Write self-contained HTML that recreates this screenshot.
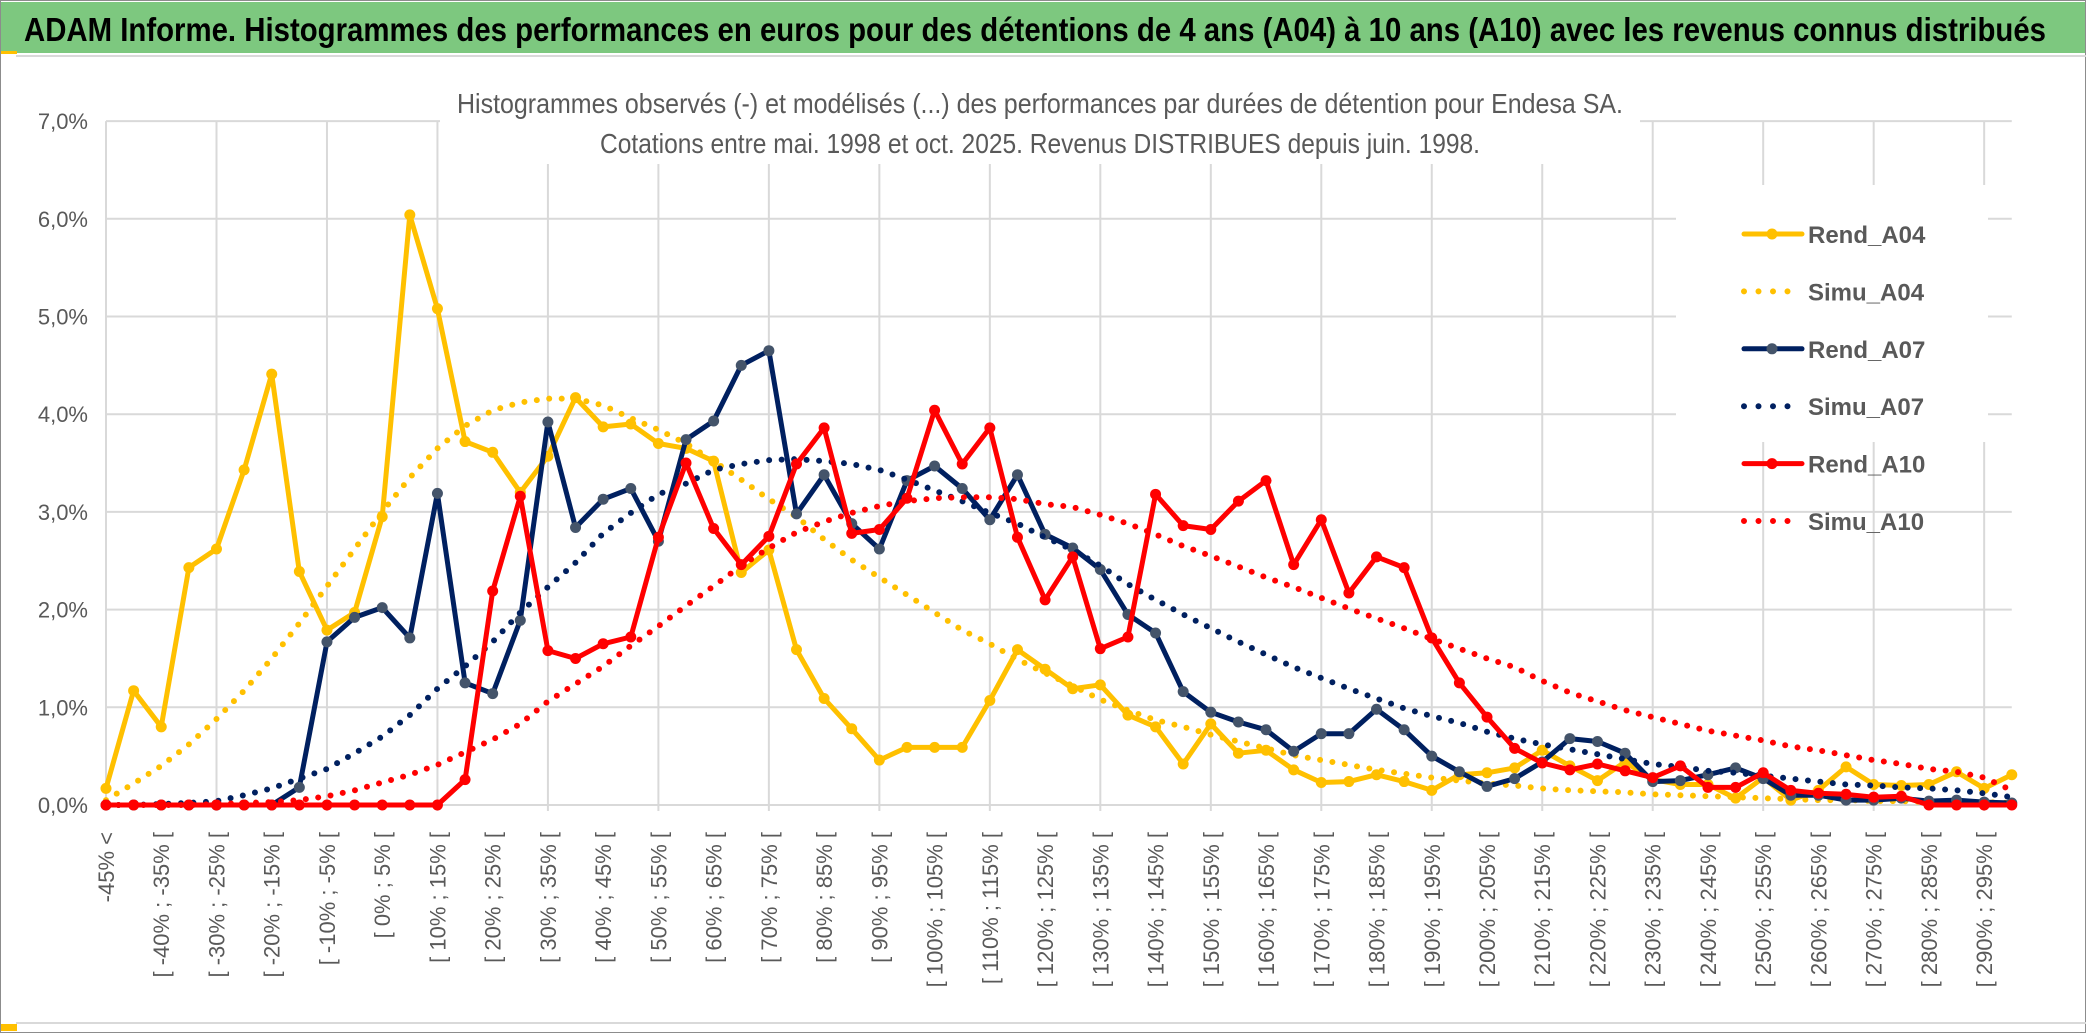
<!DOCTYPE html>
<html><head><meta charset="utf-8"><style>
html,body{margin:0;padding:0;background:#fff;}
svg{display:block;font-family:"Liberation Sans",sans-serif;}
</style></head><body>
<svg id="chart" width="2086" height="1033" viewBox="0 0 2086 1033" xmlns="http://www.w3.org/2000/svg">
<rect x="0.5" y="0.5" width="2085" height="1032" fill="#fff" stroke="#8c8c8c" stroke-width="1"/>
<rect x="1" y="2" width="2084" height="51" fill="#7dc87f"/>
<rect x="1" y="51" width="16" height="3" fill="#ffc000"/>
<line x1="16" y1="56" x2="2086" y2="56" stroke="#d9d9d9" stroke-width="2"/>
<text x="24" y="41" font-size="33" font-weight="bold" fill="#000" textLength="2022" lengthAdjust="spacingAndGlyphs">ADAM Informe. Histogrammes des performances en euros pour des détentions de 4 ans (A04) à 10 ans (A10) avec les revenus connus distribués</text>
<line x1="16" y1="1023" x2="2086" y2="1023" stroke="#d9d9d9" stroke-width="2"/>
<rect x="1" y="1024" width="16" height="7" fill="#ffc000"/>
<g id="grid"></g>
<rect x="440" y="78" width="1200" height="86" fill="#fff"/>
<text x="1040" y="113" font-size="28" fill="#595959" text-anchor="middle" textLength="1166" lengthAdjust="spacingAndGlyphs">Histogrammes observés (-) et modélisés (...) des performances par durées de détention pour Endesa SA.</text>
<text x="1040" y="153" font-size="28" fill="#595959" text-anchor="middle" textLength="880" lengthAdjust="spacingAndGlyphs">Cotations entre mai. 1998 et oct. 2025. Revenus DISTRIBUES depuis juin. 1998.</text>
<g id="yaxis"></g>
<g id="xaxis"></g>
<g id="series"></g>
<g id="legend"></g>
</svg>
<script>
const yTicks = [0,1,2,3,4,5,6,7];
const yTickLabels = ["0,0%","1,0%","2,0%","3,0%","4,0%","5,0%","6,0%","7,0%"];
const rendA04 = [0.17,1.17,0.80,2.43,2.62,3.43,4.41,2.39,1.79,1.97,2.95,6.04,5.08,3.72,3.61,3.20,3.57,4.17,
3.87,3.90,3.70,3.65,3.52,2.38,2.61,1.59,1.09,0.78,0.46,0.59,0.59,0.59,1.07,1.59,1.39,
1.19,1.23,0.92,0.80,0.42,0.83,0.53,0.56,0.36,0.23,0.24,0.31,0.24,0.15,0.31,0.33,0.38,
0.56,0.40,0.25,0.44,0.26,0.21,0.21,0.07,0.28,0.05,0.15,0.39,0.21,0.20,0.21,0.34,0.17,0.31];
const simuA04 = [0.05,0.22,0.40,0.62,0.88,1.17,1.50,1.86,2.24,2.62,3.00,3.35,3.65,3.88,4.04,4.12,4.16,4.16,
4.09,3.96,3.84,3.70,3.52,3.33,3.13,2.95,2.72,2.51,2.33,2.15,1.97,1.79,1.65,1.49,1.35,
1.22,1.08,0.97,0.87,0.80,0.72,0.65,0.58,0.51,0.46,0.41,0.36,0.32,0.28,0.25,0.22,0.20,
0.17,0.15,0.14,0.13,0.11,0.10,0.09,0.08,0.07,0.06,0.05,0.05,0.04,0.04,0.03,0.03,0.03,0.02];
const rendA07 = [0,0,0,0,0,0,0,0.18,1.67,1.92,2.02,1.71,3.19,1.25,1.14,1.89,3.92,2.84,
3.13,3.24,2.70,3.74,3.93,4.50,4.65,2.98,3.38,2.88,2.62,3.32,3.47,3.24,2.92,3.38,2.77,
2.63,2.41,1.95,1.76,1.16,0.95,0.85,0.77,0.55,0.73,0.73,0.98,0.77,0.50,0.34,0.19,0.27,
0.44,0.68,0.65,0.53,0.24,0.25,0.31,0.38,0.27,0.10,0.10,0.05,0.05,0.07,0.04,0.05,0.03,0.02];
const simuA07 = [0,0,0.01,0.02,0.04,0.10,0.17,0.27,0.37,0.53,0.70,0.92,1.19,1.42,1.67,1.97,2.23,2.48,
2.78,2.99,3.18,3.29,3.43,3.49,3.53,3.54,3.52,3.49,3.43,3.33,3.22,3.11,2.99,2.88,2.74,
2.61,2.45,2.26,2.10,1.95,1.81,1.67,1.54,1.41,1.30,1.19,1.09,0.99,0.91,0.84,0.75,0.68,
0.62,0.57,0.52,0.47,0.42,0.39,0.35,0.33,0.30,0.27,0.24,0.21,0.20,0.18,0.17,0.15,0.12,0.08];
const rendA10 = [0,0,0,0,0,0,0,0,0,0,0,0,0,0.26,2.19,3.16,1.58,1.50,
1.65,1.72,2.74,3.50,2.83,2.46,2.75,3.49,3.86,2.78,2.82,3.14,4.04,3.49,3.86,2.74,2.10,
2.54,1.60,1.72,3.18,2.86,2.82,3.11,3.32,2.46,2.92,2.17,2.54,2.43,1.71,1.25,0.90,0.58,
0.43,0.36,0.42,0.35,0.28,0.40,0.18,0.18,0.33,0.15,0.12,0.11,0.08,0.09,0,0,0,0];
const simuA10 = [0,0,0,0,0.01,0.02,0.03,0.05,0.09,0.15,0.23,0.31,0.41,0.54,0.67,0.83,1.06,1.24,
1.42,1.63,1.83,2.04,2.24,2.45,2.63,2.79,2.90,2.99,3.06,3.11,3.14,3.15,3.15,3.13,3.08,
3.05,2.97,2.88,2.77,2.65,2.55,2.44,2.33,2.23,2.12,2.01,1.91,1.81,1.70,1.60,1.50,1.41,
1.27,1.15,1.06,0.97,0.90,0.83,0.76,0.71,0.66,0.60,0.56,0.51,0.46,0.42,0.37,0.34,0.28,0.15];
const categories = ["-45% <"];
for (let k = 1; k < 70; k++) { categories.push("[ " + (-50 + 5*k) + "% ; " + (-45 + 5*k) + "% ["); }

const NS = "http://www.w3.org/2000/svg";
const X0 = 106, STEP = 27.62, Y0 = 805, YSCALE = 97.7;
function xPos(i){ return X0 + i*STEP; }
function yPos(v){ return Y0 - v*YSCALE; }
function mk(tag, attrs, parent){ const e = document.createElementNS(NS, tag); for (const k in attrs) e.setAttribute(k, attrs[k]); parent.appendChild(e); return e; }

const grid = document.getElementById('grid');
yTicks.forEach(t => {
  const l = mk('line', {x1: X0, x2: xPos(categories.length-1), y1: yPos(t), y2: yPos(t), stroke: '#d9d9d9', 'stroke-width': 2}, grid);
  
  
});
for (let i = 0; i < categories.length; i += 4) {
  const l = mk('line', {x1: xPos(i), x2: xPos(i), y1: yPos(7), y2: Y0 + 6, stroke: '#d9d9d9', 'stroke-width': 2}, grid);
  
  
}
const yaxis = document.getElementById('yaxis');
yTicks.forEach((t, k) => {
  const tx = mk('text', {x: 88, y: yPos(t) + 8, 'font-size': 22, fill: '#595959', 'text-anchor': 'end'}, yaxis);
  tx.textContent = yTickLabels[k];
  
  
});
const xaxis = document.getElementById('xaxis');
categories.forEach((c, i) => {
  if (i % 2 !== 0) return;
  const x = xPos(i) + 8, y = 832;
  const tx = mk('text', {x: x, y: y, 'font-size': 22, fill: '#595959', 'text-anchor': 'end', transform: 'rotate(-90 ' + x + ' ' + y + ')'}, xaxis);
  tx.textContent = c;
  
  
});

const seriesG = document.getElementById('series');
const seriesDefs = [
  {name: 'Rend_A04', data: rendA04, color: '#ffc000', marker: '#ffc000', dotted: false},
  {name: 'Simu_A04', data: simuA04, color: '#ffc000', dotted: true},
  {name: 'Rend_A07', data: rendA07, color: '#002060', marker: '#44546a', dotted: false},
  {name: 'Simu_A07', data: simuA07, color: '#002060', dotted: true},
  {name: 'Rend_A10', data: rendA10, color: '#ff0000', marker: '#ff0000', dotted: false},
  {name: 'Simu_A10', data: simuA10, color: '#ff0000', dotted: true}
];
seriesDefs.forEach(s => {
  const g = mk('g', {}, seriesG);
  
  
  const pts = s.data.map((v, i) => xPos(i).toFixed(1) + ',' + yPos(v).toFixed(1)).join(' ');
  const attrs = {points: pts, fill: 'none', stroke: s.color, 'stroke-linejoin': 'round', 'stroke-linecap': 'round'};
  if (s.dotted) { attrs['stroke-width'] = 6; attrs['stroke-dasharray'] = '0 12.5'; }
  else { attrs['stroke-width'] = 5; }
  const pl = mk('polyline', attrs, g);
  
  
  if (!s.dotted) {
    s.data.forEach((v, i) => {
      const c = mk('circle', {cx: xPos(i), cy: yPos(v), r: 5.5, fill: s.marker}, g);
      
      
    });
  }
});

const legend = document.getElementById('legend');
const lb = mk('rect', {x: 1676, y: 185, width: 312, height: 257, fill: '#fff'}, legend);


seriesDefs.forEach((s, k) => {
  const y = 234 + k*57.4;
  const g = mk('g', {}, legend);
  
  
  const la = {x1: 1744, x2: 1802, y1: y, y2: y, stroke: s.color, 'stroke-linecap': 'round'};
  if (s.dotted) { la['stroke-width'] = 6; la['stroke-dasharray'] = '0 14.5'; }
  else { la['stroke-width'] = 5; }
  mk('line', la, g);
  if (!s.dotted) mk('circle', {cx: 1772, cy: y, r: 5.5, fill: s.marker}, g);
  const t = mk('text', {x: 1808, y: y + 9, 'font-size': 24, 'font-weight': 'bold', fill: '#595959'}, g);
  t.textContent = s.name;
  
  
});
</script>
</body></html>
